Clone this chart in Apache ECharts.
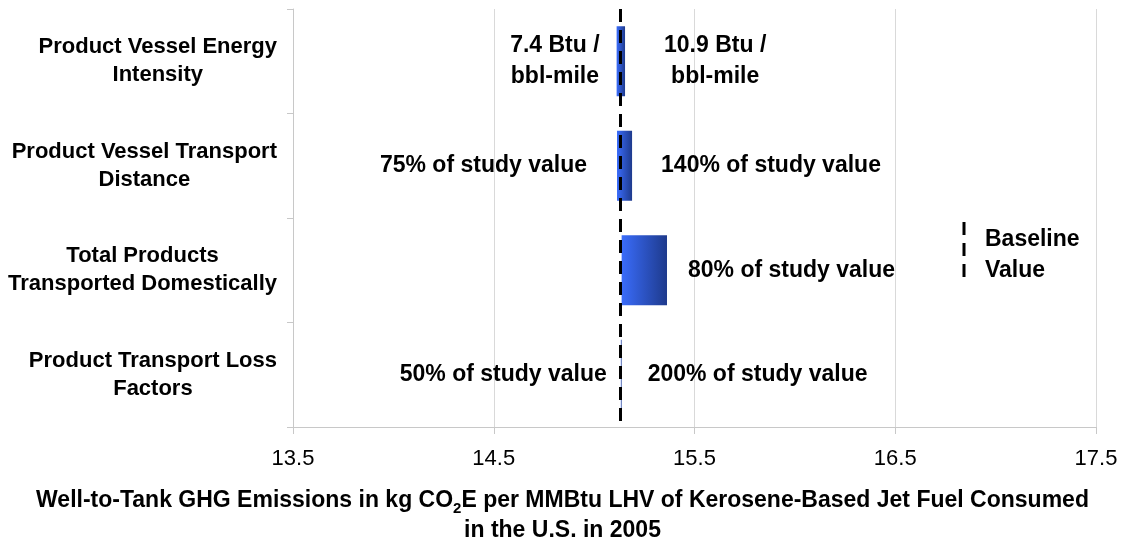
<!DOCTYPE html>
<html>
<head>
<meta charset="utf-8">
<script src="https://cdn.jsdelivr.net/npm/echarts@6/dist/echarts.min.js"></script>
<style>
html,body{margin:0;padding:0;background:#fff;}
#chart{width:1125px;height:541px;}
</style>
</head>
<body>
<div id="chart"></div>
<script>
// ---- data ----
const categories = [
  'Product Vessel Energy\nIntensity',
  'Product Vessel Transport\nDistance',
  'Total Products\nTransported Domestically',
  'Product Transport Loss\nFactors'
];
const lowValues  = [15.112, 15.114, 15.137, 15.133];
const highValues = [15.154, 15.189, 15.363, 15.137];
const lowLabels  = ['7.4 Btu /\nbbl-mile', '75% of study value', '', '50% of study value'];
const highLabels = ['10.9 Btu /\nbbl-mile', '140% of study value', '80% of study value', '200% of study value'];
const baselineValue = 15.135;
const axisMin = 13.5;
const axisMax = 17.5;
const axisInterval = 1;

// ---- layout (label gaps in px) ----
const lowGap  = [17, 30, 0, 14];
const highGap = [39, 29, 21, 26];

const FONT = "'Liberation Sans', Arial, sans-serif";
const richCenter = { c: { align: 'center', fontFamily: FONT, fontWeight: 'bold', fontSize: 23, lineHeight: 31, color: '#000' } };
const wrapLines = s => s.split('\n').map(l => '{c|' + l + '}').join('\n');

const chart = echarts.init(document.getElementById('chart'), null, { renderer: 'canvas' });

const baseData = lowValues.map((v, i) => ({
  value: v - axisMin,
  label: { distance: lowGap[i] }
}));
const rangeData = highValues.map((v, i) => ({
  value: v - lowValues[i],
  label: { distance: highGap[i] }
}));

const option = {
  animation: false,
  backgroundColor: '#fff',
  textStyle: { fontFamily: FONT },
  title: {
    left: 'center',
    top: 481,
    text: '{b|Well-to-Tank GHG Emissions in kg CO}{s|2}{b|E per MMBtu LHV of Kerosene-Based Jet Fuel Consumed}\n{b|in the U.S. in 2005}',
    textStyle: {
      fontFamily: FONT, fontWeight: 'bold', fontSize: 23, lineHeight: 30, color: '#000',
      rich: {
        b: { fontFamily: FONT, fontWeight: 'bold', fontSize: 23, lineHeight: 30, color: '#000' },
        s: { fontFamily: FONT, fontWeight: 'bold', fontSize: 15, lineHeight: 30, verticalAlign: 'bottom', color: '#000' }
      }
    }
  },
  grid: { left: 293, right: 29, top: 9, bottom: 114, containLabel: false },
  xAxis: {
    type: 'value',
    min: 0,
    max: axisMax - axisMin,
    interval: axisInterval,
    axisLine: { show: true, lineStyle: { color: '#C8C8C8', width: 1 } },
    axisTick: { show: true, length: 7, lineStyle: { color: '#C8C8C8' } },
    splitLine: { show: true, lineStyle: { color: '#D9D9D9', width: 1 } },
    axisLabel: {
      margin: 21,
      fontFamily: FONT, fontSize: 22, color: '#000',
      formatter: v => (v + axisMin).toFixed(1)
    }
  },
  yAxis: {
    type: 'category',
    inverse: true,
    data: categories,
    axisLine: { show: true, lineStyle: { color: '#C8C8C8', width: 1 } },
    axisTick: { show: true, length: 6, lineStyle: { color: '#C8C8C8' } },
    splitLine: { show: false },
    axisLabel: {
      margin: 16,
      formatter: v => v.split('\n').map(l => '{c|' + l + '}').join('\n'),
      rich: { c: { align: 'center', fontFamily: FONT, fontWeight: 'bold', fontSize: 22, lineHeight: 28, color: '#000' } }
    }
  },
  series: [
    {
      name: 'base',
      type: 'bar',
      stack: 'tornado',
      barWidth: 70,
      silent: true,
      itemStyle: { color: 'rgba(0,0,0,0)' },
      label: {
        show: true,
        position: 'insideRight',
        formatter: p => lowLabels[p.dataIndex] ? wrapLines(lowLabels[p.dataIndex]) : '',
        rich: richCenter
      },
      data: baseData
    },
    {
      name: 'range',
      type: 'bar',
      stack: 'tornado',
      barWidth: 70,
      itemStyle: {
        color: new echarts.graphic.LinearGradient(0, 0, 1, 0, [
          { offset: 0, color: '#3A6CFA' },
          { offset: 1, color: '#1E3A8C' }
        ])
      },
      label: {
        show: true,
        position: 'right',
        formatter: p => wrapLines(highLabels[p.dataIndex]),
        rich: richCenter
      },
      markLine: {
        silent: true,
        symbol: 'none',
        label: { show: false },
        lineStyle: { color: '#000', width: 3, type: [13, 8] },
        data: [{ xAxis: baselineValue - axisMin }]
      },
      data: rangeData
    }
  ],
  graphic: [
    {
      type: 'line',
      shape: { x1: 964, y1: 222, x2: 964, y2: 280 },
      style: { stroke: '#000', lineWidth: 3, lineDash: [13, 8] }
    },
    {
      type: 'text',
      left: 985,
      top: 224,
      style: {
        text: 'Baseline\nValue',
        fontFamily: FONT, fontWeight: 'bold', fontSize: 23, lineHeight: 31, fill: '#000'
      }
    }
  ]
};
chart.setOption(option);
</script>
</body>
</html>
